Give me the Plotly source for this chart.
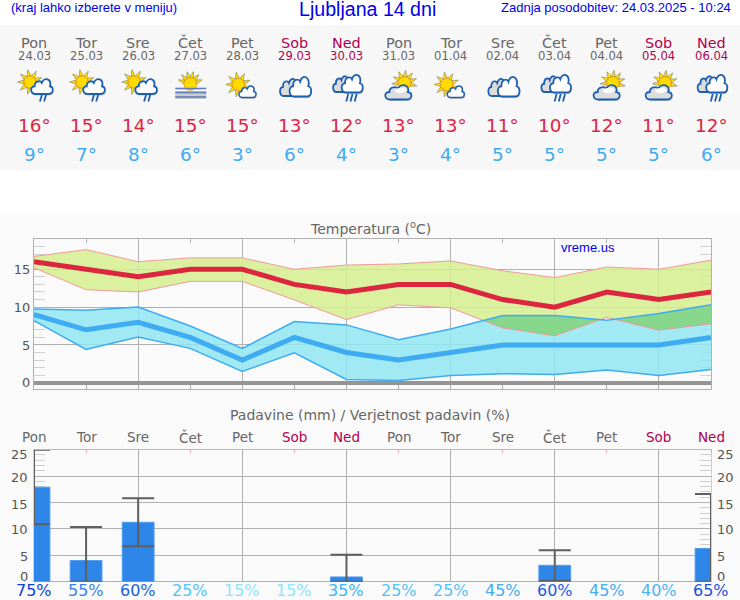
import numpy as np
import plotly.graph_objects as go

W, H = 740, 600
PLOT_L, PLOT_R = 34.0, 711.0

day_names = ["Pon", "Tor", "Sre", "Čet", "Pet", "Sob", "Ned", "Pon", "Tor", "Sre", "Čet", "Pet", "Sob", "Ned"]
dates = ["24.03", "25.03", "26.03", "27.03", "28.03", "29.03", "30.03", "31.03", "01.04", "02.04", "03.04", "04.04", "05.04", "06.04"]
t_max = [16, 15, 14, 15, 15, 13, 12, 13, 13, 11, 10, 12, 11, 12]
t_min = [9, 7, 8, 6, 3, 6, 4, 3, 4, 5, 5, 5, 5, 6]
t_max_hi = [16.7, 17.6, 16.0, 16.5, 16.5, 15.0, 15.55, 15.7, 16.1, 14.8, 13.9, 15.3, 15.0, 16.2]
t_max_lo = [15.2, 12.3, 12.0, 13.4, 13.4, 10.95, 8.35, 10.3, 9.9, 7.25, 6.2, 8.65, 6.95, 7.8]
t_min_hi = [9.75, 9.6, 10.0, 7.5, 4.55, 8.1, 7.65, 5.7, 7.1, 8.9, 8.9, 8.25, 9.15, 10.3]
t_min_lo = [8.2, 4.4, 6.05, 4.55, 1.5, 3.95, 0.45, 0.3, 0.95, 1.2, 1.1, 1.7, 0.95, 1.75]
rain_days = [0, 1, 2, 6, 10, 13]
rain_mm = [17.9, 4.0, 11.25, 0.9, 3.1, 6.3]
rain_hi = [25.0, 10.35, 15.8, 5.1, 5.95, 16.6]
rain_lo = [10.9, 0.0, 6.7, 0.0, 0.2, 0.0]
rain_pct = [75, 55, 60, 25, 15, 15, 35, 25, 25, 45, 60, 45, 40, 65]
pct_colors = {75: "#1040dc", 65: "#1a50e0", 60: "#2060e4", 55: "#3a80ec", 45: "#40aef5", 40: "#4ab4f8",
              35: "#40b4f8", 25: "#50c4fc", 15: "#8ce6fa"}
icons = ["sun_rain", "sun_rain", "sun_rain", "fog", "sun_cloud", "clouds", "clouds_rain",
         "cloud_sun", "sun_cloud", "clouds", "clouds_rain", "cloud_sun", "cloud_sun", "clouds_rain"]

days = list(range(14))
WEEKDAY, WEEKEND = "#666666", "#b00050"
day_col = [WEEKEND if d in ("Sob", "Ned") else WEEKDAY for d in day_names]
RED, BLUE, PALE = "#dc2640", "#3fabf2", "#f09a9a"
FONT, ARIAL = "DejaVu Sans", "Liberation Sans"

fig = go.Figure()
XD = [PLOT_L / W, PLOT_R / W]


def band(hi, lo, color):
    fig.add_trace(go.Scatter(x=days + days[::-1], y=list(hi) + list(lo)[::-1], fill="toself", fillcolor=color,
                             mode="none", hoverinfo="skip", xaxis="x", yaxis="y"))


def line(y, color, width):
    fig.add_trace(go.Scatter(x=days, y=y, mode="lines", line=dict(color=color, width=width),
                             hoverinfo="skip", xaxis="x", yaxis="y"))


band(t_max_hi, t_max_lo, "rgba(214,238,142,0.85)")
band(t_min_hi, t_min_lo, "rgba(145,230,241,0.85)")

# overlap of the two bands
xs = list(map(float, days))
a, b = np.array(t_min_hi), np.array(t_max_lo)
for i in range(13):
    da, db = a[i] - b[i], a[i + 1] - b[i + 1]
    if da * db < 0:
        xs.append(i + da / (da - db))
xs = np.array(sorted(xs))
top = np.interp(xs, days, t_min_hi)
low = np.interp(xs, days, t_max_lo)
inside = top >= low - 1e-9
ox, oy = [], []
i = 0
while i < len(xs):
    if inside[i]:
        j = i
        while j + 1 < len(xs) and inside[j + 1]:
            j += 1
        if j > i:
            seg_x = list(xs[i:j + 1])
            ox += seg_x + seg_x[::-1] + [None]
            oy += list(top[i:j + 1]) + list(low[i:j + 1])[::-1] + [None]
        i = j + 1
    else:
        i += 1
fig.add_trace(go.Scatter(x=ox, y=oy, fill="toself", fillcolor="#86d68c", mode="none", hoverinfo="skip",
                         xaxis="x", yaxis="y"))

line(t_max_hi, PALE, 1)
line(t_max_lo, PALE, 1)
line(t_min_hi, BLUE, 1.5)
line(t_min_lo, BLUE, 1.5)
line(t_max, RED, 5)
line(t_min, BLUE, 5)

mm = np.array(rain_mm)
fig.add_trace(go.Bar(x=rain_days, y=rain_mm, width=0.61, xaxis="x2", yaxis="y2", hoverinfo="skip",
                     marker=dict(color="#2e86e8", line=dict(color="#4f9bee", width=1)),
                     error_y=dict(type="data", symmetric=False, array=list(np.array(rain_hi) - mm),
                                  arrayminus=list(mm - np.array(rain_lo)), color="#5f5f5f",
                                  thickness=2, width=16)))

anns = []


def text(s, x, ypx, size, color, font=FONT, xref="x", anchor="center"):
    anns.append(dict(text=s, x=x, y=1 - ypx / H, xref=xref, yref="paper", showarrow=False, xanchor=anchor,
                     yanchor="middle", font=dict(family=font, size=size, color=color)))


text("(kraj lahko izberete v meniju)", 8.5 / W, 7, 13, "#0000ee", ARIAL, "paper", "left")
text("Ljubljana 14 dni", 367 / W, 9, 19.6, "#0000ee", ARIAL, "paper")
text("Zadnja posodobitev: 24.03.2025 - 10:24", 733 / W, 7, 13, "#0000ee", ARIAL, "paper", "right")
text("Temperatura (<sup>o</sup>C)", 370 / W, 228, 14, "#666666", FONT, "paper")
text("vreme.us", 558.5 / W, 247.5, 13, "#0000ee", ARIAL, "paper", "left")
text("Padavine (mm) / Verjetnost padavin (%)", 370 / W, 415, 14, "#666666", FONT, "paper")
for i in days:
    text(day_names[i], i, 43, 14.4, day_col[i])
    text(dates[i], i, 55.5, 11.6, day_col[i])
    text(f"{t_max[i]}°", i, 125, 18.4, RED)
    text(f"{t_min[i]}°", i, 155, 18.4, BLUE)
    text(day_names[i], i, 437, 13.5, day_col[i])
    text(f"{rain_pct[i]}%", i, 590.5, 16, pct_colors[rain_pct[i]])

rain_ticks = [0, 5, 10, 15, 20, 25]
rain_shift = [5, -1, -1, -2, -1, -5]
for v, sh in zip(rain_ticks, rain_shift):
    for xp, anc in ((30 / W, "right"), (715 / W, "left")):
        anns.append(dict(text=str(v), x=xp, y=v, xref="paper", yref="y2", yshift=sh, showarrow=False, xanchor=anc,
                         yanchor="middle", font=dict(family=FONT, size=13, color="#555555")))

# ---------- panels & icons as shapes in pixel-derived paper coordinates ----------
shapes = []


def fx(x):
    return f"{x / W:.5f}"


def fy(y):
    return f"{1 - y / H:.5f}"


def add(path, fill="rgba(0,0,0,0)", stroke="rgba(0,0,0,0)", width=0):
    shapes.append(dict(type="path", xref="paper", yref="paper", path=path, fillcolor=fill, layer="above",
                       line=dict(color=stroke, width=width)))


def panel(y0, y1, color):
    shapes.append(dict(type="rect", xref="paper", yref="paper", x0=0, x1=1, y0=1 - y1 / H, y1=1 - y0 / H,
                       fillcolor=color, line=dict(width=0), layer="below"))


def sun(cx, cy, r=6.0, from_deg=0, to_deg=360, n=9):
    rays = ""
    for k in range(n):
        ang = np.radians(from_deg + (to_deg - from_deg) * (k + 0.5) / n)
        base = r + 0.5
        tip = r + 6.5
        bx0, by0 = cx + base * np.cos(ang - 0.3), cy - base * np.sin(ang - 0.3)
        bx1, by1 = cx + base * np.cos(ang + 0.3), cy - base * np.sin(ang + 0.3)
        tx, ty = cx + tip * np.cos(ang), cy - tip * np.sin(ang)
        rays += f"M{fx(bx0)},{fy(by0)} L{fx(tx)},{fy(ty)} L{fx(bx1)},{fy(by1)} Z "
    add(rays, "#ffe400", "#8d8a70", 0.7)
    c = f"M{fx(cx - r)},{fy(cy)} C{fx(cx - r)},{fy(cy - 1.33 * r)} {fx(cx + r)},{fy(cy - 1.33 * r)} {fx(cx + r)},{fy(cy)} " \
        f"C{fx(cx + r)},{fy(cy + 1.33 * r)} {fx(cx - r)},{fy(cy + 1.33 * r)} {fx(cx - r)},{fy(cy)} Z"
    add(c, "#ffdc00", "#f39a10", 1)


def cloud(x0, y0, x1, y1, fill="#ffffff", stroke="#1d5fb0", width=1.8, shadow=True):
    w, h = x1 - x0, y1 - y0

    def p(u, v, ox=0.0, oy=0.0):
        return f"{fx(x0 + u * w + ox)},{fy(y0 + v * h + oy)}"

    def path(ox=0.0, oy=0.0):
        return (f"M{p(.2, 1, ox, oy)} C{p(-.03, 1, ox, oy)} {p(-.07, .5, ox, oy)} {p(.17, .5, ox, oy)} "
                f"C{p(.16, .14, ox, oy)} {p(.44, .12, ox, oy)} {p(.5, .28, ox, oy)} "
                f"C{p(.6, -.12, ox, oy)} {p(.98, .02, ox, oy)} {p(.88, .5, ox, oy)} "
                f"C{p(1.08, .56, ox, oy)} {p(1.05, 1, ox, oy)} {p(.82, 1, ox, oy)} Z")

    if shadow:
        add(path(1, 1.5), "rgba(90,90,70,0.28)")
    add(path(), fill, stroke, width)


def rain(cx, y0, y1, n, color="#1d5fb0"):
    s = ""
    for k in range(n):
        x = cx + (k - (n - 1) / 2) * 4.2
        s += f"M{fx(x + 1)},{fy(y0)} L{fx(x - 1)},{fy(y1)} "
    add(s, stroke=color, width=1.8)


def icon(kind, c):
    if kind == "sun_rain":
        sun(c - 4, 82)
        cloud(c - 3, 78.5, c + 18.5, 94)
        rain(c + 9, 95, 101.5, 2)
    elif kind == "fog":
        sun(c, 84, 6.2, 5, 175, 6)
        add(f"M{fx(c - 15)},{fy(91)} L{fx(c + 16)},{fy(91)} L{fx(c + 16)},{fy(99)} L{fx(c - 15)},{fy(99)} Z", "#c9cdd2")
        for y in (88.5, 92.5, 97):
            add(f"M{fx(c - 15)},{fy(y)} L{fx(c + 16)},{fy(y)}", stroke="#5f7fb5", width=1.6)
    elif kind == "sun_cloud":
        sun(c - 4, 84.5)
        cloud(c - 3.5, 85.5, c + 13.5, 97.5, width=1.5)
    elif kind == "clouds":
        cloud(c - 14.5, 78, c + 3.5, 96, "#dddddd", "#1d5fb0", 1.8, False)
        cloud(c - 5, 76, c + 16.5, 96.5)
    elif kind == "clouds_rain":
        cloud(c - 13.5, 75.5, c + 3.5, 92, "#dddddd", "#1d5fb0", 1.8, False)
        cloud(c - 5, 74, c + 16, 92.5)
        rain(c + 5, 94, 101.5, 3)
    elif kind == "cloud_sun":
        sun(c + 6, 83, 6.2, -30, 200, 7)
        cloud(c - 13.5, 84.5, c + 12.5, 99.5, "#dddddd", "#1d5fb0", 1.8)
        add(f"M{fx(c - 4)},{fy(91)} C{fx(c - 2)},{fy(87)} {fx(c + 6)},{fy(87)} {fx(c + 8)},{fy(90)} "
            f"C{fx(c + 6)},{fy(94)} {fx(c - 2)},{fy(94)} {fx(c - 4)},{fy(91)} Z", "#ffffff")


panel(25, 170, "#f7f7f7")
panel(215, 600, "#fafafa")
step = (PLOT_R - PLOT_L) / 13
for i, kind in enumerate(icons):
    icon(kind, PLOT_L + i * step)

GRID = "#b0b0b0"
TICKF = dict(family=FONT, size=13, color="#555555")
x_common = dict(range=[0, 13], domain=XD, showticklabels=False, dtick=2, tick0=0, showgrid=True, gridcolor=GRID,
                gridwidth=1, zeroline=False, ticks="")
fig.update_layout(
    width=W, height=H, margin=dict(l=0, r=0, t=0, b=0, pad=0), paper_bgcolor="#ffffff", plot_bgcolor="rgba(0,0,0,0)",
    showlegend=False, barmode="overlay", shapes=shapes, annotations=anns, font=dict(family=FONT),
    xaxis=dict(x_common, anchor="y", showline=True, linecolor=GRID, mirror="allticks",
               minor=dict(dtick=1, tick0=0, ticks="inside", ticklen=4, tickcolor=GRID, tickwidth=1)),
    yaxis=dict(range=[-0.82, 19.0], domain=[1 - 389 / H, 1 - 239 / H], anchor="x", tickvals=[0, 5, 10, 15],
               tickfont=TICKF, showgrid=True, gridcolor=GRID, gridwidth=1, zeroline=True, zerolinecolor="#949494",
               zerolinewidth=4, showline=True, linecolor=GRID, mirror="allticks", ticks="", layer="below traces",
               minor=dict(tickvals=[v for v in range(1, 19) if v % 5], ticks="inside", ticklen=11,
                          tickcolor="#d0d0d0", tickwidth=1)),
    xaxis2=dict(x_common, anchor="y2", side="top", showline=True, linecolor="#e7a3bb",
                minor=dict(dtick=1, tick0=0, ticks="inside", ticklen=3, tickcolor="#e7a3bb", tickwidth=1)),
    yaxis2=dict(range=[0, 25], domain=[1 - 581.7 / H, 1 - 449.7 / H], anchor="x2", tickvals=[5, 10, 15, 20],
                showticklabels=False, showgrid=True, gridcolor=GRID, gridwidth=1, zeroline=True, zerolinecolor=GRID,
                zerolinewidth=1, showline=True, linecolor="#cfcfcf", mirror="allticks", ticks="", layer="below traces",
                minor=dict(tickvals=[v for v in range(1, 25) if v % 5], ticks="inside", ticklen=11,
                           tickcolor="#d0d0d0", tickwidth=1)),
)

fig.write_html("out.html", config=dict(displayModeBar=False),
               post_script="document.body.style.margin='0';document.body.style.overflow='hidden';")
